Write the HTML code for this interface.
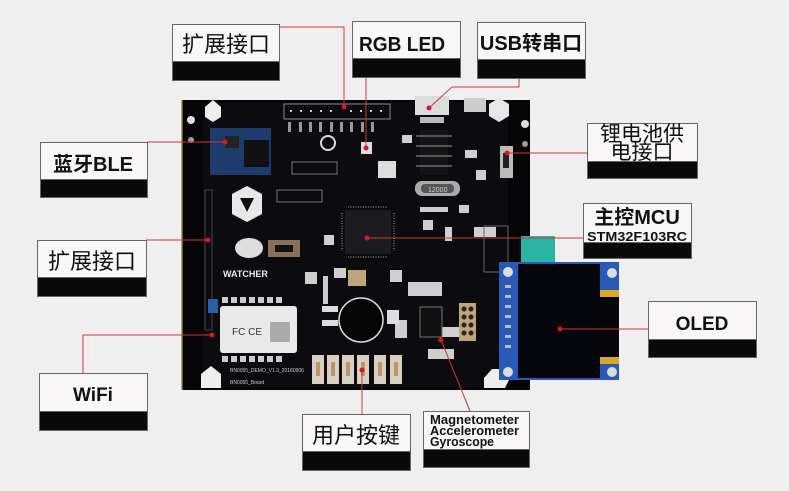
<!DOCTYPE html>
<html><head><meta charset="utf-8"><style>
html,body{margin:0;padding:0;background:#efefef;}
svg{display:block}
.cn{font-family:"Liberation Sans","Noto Sans CJK SC",sans-serif;fill:#111;}
.en{font-family:"Liberation Sans",sans-serif;font-weight:bold;fill:#111;}
</style></head><body>
<svg width="789" height="491" viewBox="0 0 789 491" xmlns="http://www.w3.org/2000/svg">
<rect width="789" height="491" fill="#efefef"/>
<!-- board -->
<rect x="181" y="100" width="349" height="290" fill="#050508"/>
<rect x="181" y="100" width="1.5" height="290" fill="#b9a76a"/>
<rect x="203" y="103" width="305" height="285" fill="#0b0b10"/>
<circle cx="191" cy="120" r="4" fill="#ddd"/><circle cx="191" cy="140" r="3" fill="#a98"/>
<circle cx="525" cy="124" r="4" fill="#ddd"/><circle cx="525" cy="144" r="3" fill="#a98"/>
<polygon points="205,107 213,100 221,107 221,117 213,122 205,117" fill="#eee"/>
<polygon points="489,104 499,98 509,104 509,116 499,122 489,116" fill="#e8e8e8"/>
<polygon points="201,374 211,366 221,374 221,388 201,388" fill="#eee"/>
<polygon points="484,378 492,369 505,369 510,378 505,388 484,388" fill="#eee"/>
<rect x="284" y="104" width="106" height="15" fill="none" stroke="#888" stroke-width="1"/>
<g fill="#ccc"><rect x="290" y="110" width="2" height="2"/><rect x="300" y="110" width="2" height="2"/><rect x="310" y="110" width="2" height="2"/><rect x="320" y="110" width="2" height="2"/><rect x="330" y="110" width="2" height="2"/><rect x="350" y="110" width="2" height="2"/><rect x="360" y="110" width="2" height="2"/><rect x="370" y="110" width="2" height="2"/><rect x="380" y="110" width="2" height="2"/></g>
<g fill="#999"><rect x="288" y="122" width="3" height="10"/><rect x="299" y="122" width="3" height="10"/><rect x="309" y="122" width="3" height="10"/><rect x="319" y="122" width="3" height="10"/><rect x="330" y="122" width="3" height="10"/><rect x="340" y="122" width="3" height="10"/><rect x="350" y="122" width="3" height="10"/><rect x="361" y="122" width="3" height="10"/><rect x="371" y="122" width="3" height="10"/></g>
<rect x="415" y="96" width="34" height="19" fill="#ddd"/>
<rect x="420" y="117" width="24" height="6" fill="#bbb"/>
<rect x="464" y="98" width="22" height="14" fill="#ccc"/>
<rect x="210" y="128" width="61" height="47" fill="#1e3b6e"/>
<rect x="244" y="140" width="25" height="27" fill="#111"/>
<rect x="225" y="136" width="14" height="12" fill="#222"/>
<polygon points="247,186 262,194 262,214 247,222 232,214 232,194" fill="#e8e8e8"/>
<polygon points="240,198 254,198 247,212" fill="#111"/>
<ellipse cx="249" cy="248" rx="14" ry="10" fill="#ddd"/>
<rect x="268" y="240" width="32" height="17" fill="#8a7059"/><rect x="275" y="245" width="18" height="7" fill="#111"/>
<text x="223" y="277" font-family="Liberation Sans" font-weight="bold" font-size="9" fill="#eee">WATCHER</text>
<rect x="205" y="190" width="7" height="140" fill="none" stroke="#444"/>
<rect x="345" y="210" width="46" height="44" fill="#1b1b20"/>
<g stroke="#aaa" stroke-width="1"><line x1="348" y1="207" x2="388" y2="207" stroke-dasharray="1,1.5"/><line x1="348" y1="257" x2="388" y2="257" stroke-dasharray="1,1.5"/><line x1="342" y1="213" x2="342" y2="251" stroke-dasharray="1,1.5"/><line x1="394" y1="213" x2="394" y2="251" stroke-dasharray="1,1.5"/></g>
<rect x="420" y="130" width="28" height="45" fill="#151518"/>
<g stroke="#999"><line x1="416" y1="136" x2="452" y2="136"/><line x1="416" y1="146" x2="452" y2="146"/><line x1="416" y1="156" x2="452" y2="156"/><line x1="416" y1="166" x2="452" y2="166"/></g>
<rect x="415" y="181" width="45" height="15" rx="7" fill="#aaa"/><rect x="421" y="184" width="33" height="9" rx="4" fill="#555"/>
<text x="428" y="192" font-family="Liberation Sans" font-size="7" fill="#ccc">12000</text>
<rect x="361" y="142" width="11" height="12" fill="#ddd"/>
<rect x="378" y="161" width="18" height="17" fill="#ddd"/>
<circle cx="328" cy="143" r="7" fill="none" stroke="#ddd" stroke-width="2"/>
<rect x="292" y="162" width="45" height="12" fill="none" stroke="#777"/>
<rect x="277" y="190" width="45" height="12" fill="none" stroke="#777"/>
<rect x="500" y="146" width="13" height="32" fill="#bbb"/><rect x="503" y="153" width="6" height="15" fill="#222"/>
<g fill="#cfcfcf"><rect x="402" y="135" width="10" height="8"/><rect x="465" y="150" width="12" height="8"/><rect x="476" y="170" width="10" height="10"/><rect x="459" y="205" width="10" height="8"/><rect x="420" y="207" width="28" height="5"/><rect x="445" y="227" width="7" height="14"/><rect x="474" y="227" width="22" height="10"/><rect x="423" y="220" width="10" height="10"/><rect x="324" y="235" width="10" height="10"/><rect x="305" y="272" width="12" height="12"/><rect x="334" y="268" width="12" height="10"/><rect x="390" y="270" width="12" height="12"/><rect x="408" y="282" width="34" height="14"/><rect x="438" y="327" width="26" height="10"/><rect x="395" y="320" width="12" height="18"/><rect x="428" y="349" width="26" height="10"/></g>
<rect x="348" y="270" width="18" height="16" fill="#bfa57a"/>
<rect x="323" y="276" width="5" height="28" fill="#ccc"/>
<rect x="322" y="306" width="16" height="6" fill="#ddd"/><rect x="322" y="320" width="16" height="6" fill="#ddd"/>
<circle cx="361" cy="320" r="22" fill="#050505" stroke="#ddd" stroke-width="1.5"/>
<rect x="387" y="310" width="12" height="14" fill="#ddd"/>
<rect x="420" y="307" width="22" height="30" fill="#111" stroke="#777"/>
<rect x="459" y="303" width="17" height="38" fill="#bfa57a"/>
<g fill="#222"><circle cx="464" cy="309" r="2.5"/><circle cx="471" cy="309" r="2.5"/><circle cx="464" cy="317" r="2.5"/><circle cx="471" cy="317" r="2.5"/><circle cx="464" cy="325" r="2.5"/><circle cx="471" cy="325" r="2.5"/><circle cx="464" cy="333" r="2.5"/><circle cx="471" cy="333" r="2.5"/></g>
<rect x="484" y="226" width="24" height="46" fill="none" stroke="#666"/>
<rect x="208" y="299" width="10" height="14" fill="#2b5f9e"/>
<rect x="220" y="306" width="77" height="47" rx="3" fill="#e9e9e9"/>
<text x="232" y="335" font-family="Liberation Sans" font-size="10" fill="#333">FC CE</text>
<rect x="270" y="322" width="20" height="20" fill="#aaa"/>
<g fill="#ccc"><rect x="222" y="297" width="6" height="6"/><rect x="231" y="297" width="6" height="6"/><rect x="240" y="297" width="6" height="6"/><rect x="249" y="297" width="6" height="6"/><rect x="258" y="297" width="6" height="6"/><rect x="267" y="297" width="6" height="6"/><rect x="276" y="297" width="6" height="6"/><rect x="222" y="356" width="6" height="6"/><rect x="231" y="356" width="6" height="6"/><rect x="240" y="356" width="6" height="6"/><rect x="249" y="356" width="6" height="6"/><rect x="258" y="356" width="6" height="6"/><rect x="267" y="356" width="6" height="6"/><rect x="276" y="356" width="6" height="6"/></g>
<text x="230" y="372" font-family="Liberation Sans" font-size="5" fill="#ccc">BN0055_DEMO_V1.3_20180906</text>
<text x="230" y="384" font-family="Liberation Sans" font-size="5" fill="#ccc">BN0055_Board</text>
<g fill="#d9cfc0"><rect x="312" y="355" width="12" height="29"/><rect x="327" y="355" width="12" height="29"/><rect x="342" y="355" width="12" height="29"/><rect x="357" y="355" width="12" height="29"/><rect x="374" y="355" width="12" height="29"/><rect x="390" y="355" width="12" height="29"/></g>
<g fill="#b89a6a"><rect x="316" y="362" width="4" height="14"/><rect x="331" y="362" width="4" height="14"/><rect x="346" y="362" width="4" height="14"/><rect x="361" y="362" width="4" height="14"/><rect x="378" y="362" width="4" height="14"/><rect x="394" y="362" width="4" height="14"/></g>
<rect x="521" y="236" width="34" height="27" fill="#2bb3a3"/>
<rect x="499" y="262" width="120" height="118" fill="#2a5ab8"/>
<rect x="518" y="264" width="82" height="114" fill="#05060c"/>
<rect x="600" y="297" width="19" height="60" fill="#06060a"/>
<rect x="600" y="290" width="19" height="7" fill="#d9a72a"/><rect x="600" y="357" width="19" height="7" fill="#d9a72a"/>
<circle cx="508" cy="272" r="5" fill="#ddd"/><circle cx="508" cy="372" r="5" fill="#ddd"/>
<circle cx="612" cy="273" r="5" fill="#ddd"/><circle cx="612" cy="372" r="5" fill="#ddd"/>
<g fill="#bbb"><rect x="505" y="285" width="6" height="3"/><rect x="505" y="295" width="6" height="3"/><rect x="505" y="305" width="6" height="3"/><rect x="505" y="315" width="6" height="3"/><rect x="505" y="325" width="6" height="3"/><rect x="505" y="335" width="6" height="3"/><rect x="505" y="345" width="6" height="3"/></g>

<g stroke="#d4333a" stroke-width="1" fill="none">
<polyline points="279,27 344,27 344,107"/>
<line x1="366" y1="77" x2="366" y2="148"/>
<polyline points="519,78 519,87 452,87 429,108"/>
<line x1="147" y1="142" x2="225" y2="142"/>
<line x1="587" y1="153" x2="507" y2="153"/>
<line x1="583" y1="238" x2="367" y2="238"/>
<line x1="146" y1="240" x2="208" y2="240"/>
<polyline points="83,373 83,335 212,335"/>
<line x1="648" y1="329" x2="560" y2="329"/>
<line x1="362" y1="414" x2="362" y2="370"/>
<line x1="470" y1="411" x2="441" y2="340"/>
</g>
<g fill="#e0141e"><circle cx="344" cy="107" r="2.5"/><circle cx="366" cy="148" r="2.5"/><circle cx="429" cy="108" r="2.5"/><circle cx="225" cy="142" r="2.5"/><circle cx="507" cy="153" r="2.5"/><circle cx="367" cy="238" r="2.5"/><circle cx="208" cy="240" r="2.5"/><circle cx="212" cy="335" r="2.5"/><circle cx="560" cy="329" r="2.5"/><circle cx="362" cy="370" r="2.5"/><circle cx="441" cy="340" r="2.5"/></g>

<g stroke="#666" stroke-width="1">
<rect x="172.5" y="24.5" width="107" height="56" fill="#0a0a0a"/><rect x="172.5" y="24.5" width="107" height="37" fill="#f8f6f6"/>
<rect x="352.5" y="21.5" width="108" height="56" fill="#0a0a0a"/><rect x="352.5" y="21.5" width="108" height="37" fill="#f8f6f6"/>
<rect x="477.5" y="22.5" width="108" height="56" fill="#0a0a0a"/><rect x="477.5" y="22.5" width="108" height="37" fill="#f8f6f6"/>
<rect x="40.5" y="142.5" width="107" height="55" fill="#0a0a0a"/><rect x="40.5" y="142.5" width="107" height="37" fill="#f8f6f6"/>
<rect x="587.5" y="123.5" width="110" height="55" fill="#0a0a0a"/><rect x="587.5" y="123.5" width="110" height="38" fill="#f8f6f6"/>
<rect x="583.5" y="203.5" width="108" height="55" fill="#0a0a0a"/><rect x="583.5" y="203.5" width="108" height="39" fill="#f8f6f6"/>
<rect x="37.5" y="240.5" width="109" height="56" fill="#0a0a0a"/><rect x="37.5" y="240.5" width="109" height="37" fill="#f8f6f6"/>
<rect x="39.5" y="373.5" width="108" height="57" fill="#0a0a0a"/><rect x="39.5" y="373.5" width="108" height="38" fill="#f8f6f6"/>
<rect x="648.5" y="301.5" width="108" height="56" fill="#0a0a0a"/><rect x="648.5" y="301.5" width="108" height="38" fill="#f8f6f6"/>
<rect x="302.5" y="414.5" width="108" height="56" fill="#0a0a0a"/><rect x="302.5" y="414.5" width="108" height="37" fill="#f8f6f6"/>
<rect x="423.5" y="411.5" width="106" height="56" fill="#0a0a0a"/><rect x="423.5" y="411.5" width="106" height="38" fill="#f8f6f6"/>
</g>
<text class="cn" x="226" y="52" font-size="22" text-anchor="middle">扩展接口</text>
<text class="en" x="359" y="51" font-size="20" textLength="86" lengthAdjust="spacingAndGlyphs">RGB LED</text>
<text class="cn" x="531" y="50" font-size="20" text-anchor="middle" font-weight="bold">USB转串口</text>
<text class="cn" x="93" y="171" font-size="20" text-anchor="middle" font-weight="bold">蓝牙BLE</text>
<text class="cn" x="642" y="141" font-size="21" text-anchor="middle">锂电池供</text>
<text class="cn" x="642" y="159" font-size="21" text-anchor="middle">电接口</text>
<text class="cn" x="637" y="224" font-size="20" text-anchor="middle" font-weight="bold">主控MCU</text>
<text class="en" x="587" y="241" font-size="13" textLength="100" lengthAdjust="spacingAndGlyphs">STM32F103RC</text>
<text class="cn" x="92" y="269" font-size="22" text-anchor="middle">扩展接口</text>
<text class="en" x="93" y="401" font-size="19" text-anchor="middle">WiFi</text>
<text class="en" x="702" y="330" font-size="19" text-anchor="middle">OLED</text>
<text class="cn" x="356" y="443" font-size="22" text-anchor="middle">用户按键</text>
<text class="en" x="430" y="424" font-size="13" textLength="89" lengthAdjust="spacingAndGlyphs">Magnetometer</text>
<text class="en" x="430" y="435" font-size="13" textLength="89" lengthAdjust="spacingAndGlyphs">Accelerometer</text>
<text class="en" x="430" y="446" font-size="13" textLength="64" lengthAdjust="spacingAndGlyphs">Gyroscope</text>
</svg>
</body></html>
